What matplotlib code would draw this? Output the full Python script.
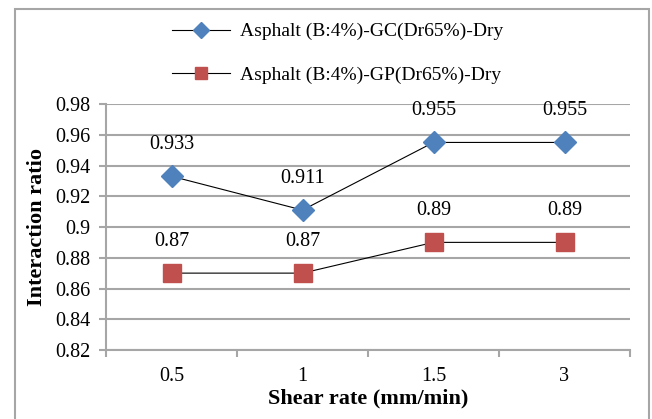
import matplotlib.pyplot as plt
from matplotlib.patches import Rectangle

# data
shear_rates = ['0.5', '1', '1.5', '3']
gc_values = [0.933, 0.911, 0.955, 0.955]
gp_values = [0.87, 0.87, 0.89, 0.89]
gc_labels = ['0.933', '0.911', '0.955', '0.955']
gp_labels = ['0.87', '0.87', '0.89', '0.89']
y_ticks = [0.82, 0.84, 0.86, 0.88, 0.9, 0.92, 0.94, 0.96, 0.98]
y_ticklabels = ['0.82', '0.84', '0.86', '0.88', '0.9', '0.92', '0.94', '0.96', '0.98']

plt.rcParams['font.family'] = ['Liberation Serif', 'DejaVu Serif']
W, H = 652, 419
grid_col = '#a6a6a6'
fs = 14.5

fig = plt.figure(figsize=(W / 100, H / 100), dpi=100)
ax = fig.add_axes([106 / W, 1 - 350 / H, 524 / W, 246 / H])

# outer chart frame
fig.patches.append(Rectangle((15 / W, -0.1), 634 / W, 1.1 - 9 / H, transform=fig.transFigure,
                             fill=False, edgecolor=grid_col, linewidth=1.5))

x = list(range(len(shear_rates)))
ax.plot(x, gc_values, color='black', linewidth=0.8, marker='D', markersize=11,
        markerfacecolor='#4f81bd', markeredgecolor='#4f81bd',
        label='Asphalt (B:4%)-GC(Dr65%)-Dry')
ax.plot(x, gp_values, color='black', linewidth=0.8, marker='s', markersize=12.5,
        markerfacecolor='#c0504d', markeredgecolor='#c0504d',
        label='Asphalt (B:4%)-GP(Dr65%)-Dry')

for xi, v, t in zip(x, gc_values, gc_labels):
    ax.annotate(t, (xi, v), xytext=(0, 23), textcoords='offset points',
                ha='center', va='center', fontsize=fs)
for xi, v, t in zip(x, gp_values, gp_labels):
    ax.annotate(t, (xi, v), xytext=(0, 23), textcoords='offset points',
                ha='center', va='center', fontsize=fs)

ax.set_xlim(-0.5, len(shear_rates) - 0.5)
ax.set_ylim(0.82, 0.98)
ax.set_yticks(y_ticks)
ax.set_yticklabels(y_ticklabels, fontsize=fs)
ax.set_xticks(x)
ax.set_xticklabels(shear_rates, fontsize=fs)
ax.set_xticks([-0.5, 0.5, 1.5, 2.5, 3.5], minor=True)
ax.tick_params(axis='x', which='major', length=0, pad=12)
ax.tick_params(axis='x', which='minor', length=5, color=grid_col, width=1.5)
ax.tick_params(axis='y', length=5, color=grid_col, width=1.5, pad=6)
ax.grid(axis='y', color=grid_col, linewidth=1.5)
ax.set_axisbelow(True)
for s in ['top', 'right']:
    ax.spines[s].set_visible(False)
for s in ['left', 'bottom']:
    ax.spines[s].set_color(grid_col)
    ax.spines[s].set_linewidth(1.5)

ax.set_xlabel('Shear rate (mm/min)', fontsize=16, fontweight='bold', labelpad=2)
ax.set_ylabel('Interaction ratio', fontsize=16, fontweight='bold', labelpad=6)

fig.legend(loc='upper left', bbox_to_anchor=(162 / W, 1 - 13 / H), frameon=False,
           fontsize=14, handlelength=3.0, handletextpad=0.5, labelspacing=1.35,
           borderpad=0, markerscale=0.7)

fig.savefig('out.png', dpi=100)
